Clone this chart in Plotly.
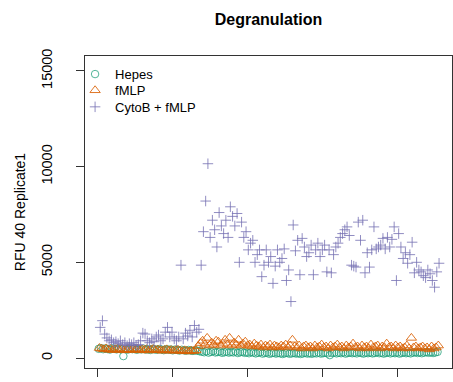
import numpy as np
import plotly.graph_objects as go

# ---- data ----
series_names = ["Hepes", "fMLP", "CytoB + fMLP"]

hepes_low = [480, 520, 460, 500, 470, 440, 510, 480, 450, 490, 460, 100, 470, 440, 500, 460,
             480, 430, 470, 450, 490, 440, 460, 420, 480, 450, 430, 470, 440, 410, 460, 430,
             450, 400, 440, 420, 390, 430, 400, 380, 420, 390, 370, 400, 380, 350]
hepes_high = [330, 300, 350, 280, 320, 360, 290, 310, 340, 270, 300, 330, 280, 310, 290, 340,
              260, 300, 320, 270, 290, 250, 310, 280, 240, 270, 300, 230, 260, 280, 220, 250,
              270, 230, 260, 240, 210, 250, 270, 220, 240, 260, 230, 250, 210, 240, 270, 230,
              250, 220, 260, 240, 280, 230, 250, 270, 240, 150, 260, 280, 240, 270, 250, 290,
              230, 260, 280, 250, 270, 240, 290, 260, 230, 270, 250, 280, 240, 260, 300, 250,
              270, 230, 260, 290, 240, 270, 250, 280, 230, 260, 290, 250, 270, 240, 280, 300,
              260, 290, 250, 280, 310, 270, 300, 260, 290, 320]

fmlp_low = [520, 480, 450, 500, 430, 470, 410, 450, 490, 420, 460, 400, 440, 470, 410, 450,
            430, 480, 400, 440, 420, 460, 390, 430, 470, 410, 440, 400, 380, 420, 450, 390,
            410, 370, 400, 430, 380, 350, 400, 370, 340, 390, 360, 400, 620, 780]
fmlp_high = [900, 700, 1050, 650, 800, 700, 900, 850, 650, 750, 950, 700, 1050, 650, 800, 700,
             950, 650, 750, 850, 650, 700, 600, 750, 650, 600, 700, 550, 650, 600, 700, 550,
             650, 600, 550, 650, 600, 700, 550, 650, 950, 600, 550, 650, 500, 600, 650, 550,
             600, 500, 650, 550, 600, 700, 550, 600, 500, 650, 550, 600, 700, 550, 600, 500,
             650, 550, 600, 750, 550, 600, 500, 650, 550, 600, 500, 700, 550, 600, 650, 500,
             600, 550, 750, 550, 600, 500, 650, 550, 600, 500, 550, 650, 500, 1050, 550, 600,
             500, 550, 600, 500, 550, 450, 600, 500, 550, 650]

cyto_low = [1600, 1950, 1250, 1050, 900, 950, 800, 850, 750, 900, 700, 800, 650, 750, 700, 800,
            650, 700, 900, 1300, 1250, 900, 800, 1000, 850, 1100, 1200, 900, 1000, 1350, 1600,
            1100, 1350, 1000, 900, 1100, 4850, 1000, 1300, 1150, 1450, 1100, 1700, 1350, 1500, 4850]
cyto_high = [6600, 8200, 10150, 6300, 7200, 6700, 5800, 7600, 6900, 6500, 7200, 6300, 7900, 7400,
             6900, 7550, 5000, 7100, 6300, 6600, 5650, 6000, 6150, 5000, 5400, 5650, 4250, 4850,
             5650, 5000, 5300, 3900, 4800, 5650, 5000, 5200, 5700, 4050, 4600, 2950, 6950, 5600,
             6150, 4350, 6250, 5800, 5300, 5500, 5900, 4350, 5650, 6000, 5300, 5650, 5900, 4500,
             5650, 4450, 5400, 5800, 6000, 6300, 6500, 6700, 6850, 6400, 4850, 4800, 4750, 7100,
             6150, 7200, 4450, 5500, 4750, 5650, 6850, 5700, 5800, 5900, 6250, 5700, 6300, 5800,
             6200, 6850, 4050, 6500, 5800, 5200, 5500, 4950, 5400, 6050, 4450, 5000, 4600, 4500,
             4300, 4200, 4600, 4400, 4050, 3700, 4500, 4950]

hepes = hepes_low + hepes_high
fmlp = fmlp_low + fmlp_high
cyto = cyto_low + cyto_high

# measurement index (wells interleaved by treatment)
x_hepes = 1 + 3 * np.arange(len(hepes))
x_fmlp = 2 + 3 * np.arange(len(fmlp))
x_cyto = 3 + 3 * np.arange(len(cyto))

x_ticks = [0, 100, 200, 300, 400]
y_ticks = [0, 5000, 10000, 15000]
y_tick_text = ["0", "5000", "10000", "15000"]

colors = ["rgba(27,158,119,0.75)", "rgba(217,95,2,0.85)", "rgba(117,112,179,0.8)"]
symbols = ["circle-open", "triangle-up-open", "cross-thin-open"]
sizes = [7.5, 9, 7.5]
legend_ids = ["legend", "legend2", "legend3"]
legend_y = [0.99, 0.938, 0.885]

FONT = "Liberation Sans, Arial, Helvetica, sans-serif"

fig = go.Figure()
for name, xs, ys, c, s, sz, lg in zip(series_names, [x_hepes, x_fmlp, x_cyto],
                                      [hepes, fmlp, cyto], colors, symbols, sizes, legend_ids):
    fig.add_trace(go.Scatter(
        x=xs, y=ys, mode="markers", name=name, legend=lg,
        marker=dict(symbol=s, size=sz, color=c, line=dict(width=1, color=c)),
    ))

legend_common = dict(x=-0.027, xanchor="left", yanchor="top", bgcolor="rgba(0,0,0,0)",
                     font=dict(size=13, family=FONT, color="black"), itemwidth=30)

fig.update_layout(
    width=453, height=382,
    margin=dict(l=85, r=1, t=56, b=14),
    paper_bgcolor="white", plot_bgcolor="white",
    font=dict(family=FONT, size=14, color="black"),
    title=dict(text="<b>Degranulation</b>", x=0.5, xref="paper", xanchor="center",
               y=1 - 19 / 382, yref="container", yanchor="middle",
               font=dict(size=16, family=FONT, color="black")),
    showlegend=True,
    legend=dict(y=legend_y[0], **legend_common),
    legend2=dict(y=legend_y[1], **legend_common),
    legend3=dict(y=legend_y[2], **legend_common),
)
fig.update_xaxes(range=[-17.3, 473.3], tickvals=x_ticks, showticklabels=False,
                 ticks="outside", ticklen=8, tickcolor="#333", tickwidth=1,
                 showgrid=False, zeroline=False, showline=True, mirror=True,
                 linecolor="#333", linewidth=1)
fig.update_yaxes(range=[-522, 15778], tickvals=y_ticks, ticktext=y_tick_text, tickangle=-90,
                 ticks="outside", ticklen=8, tickcolor="#333", tickwidth=1,
                 ticklabelstandoff=18, tickfont=dict(size=14.5),
                 showgrid=False, zeroline=False, showline=True, mirror=True,
                 linecolor="#333", linewidth=1,
                 title=dict(text="RFU 40 Replicate1", standoff=10,
                            font=dict(size=14, family=FONT)))

fig.write_html("out.html")
